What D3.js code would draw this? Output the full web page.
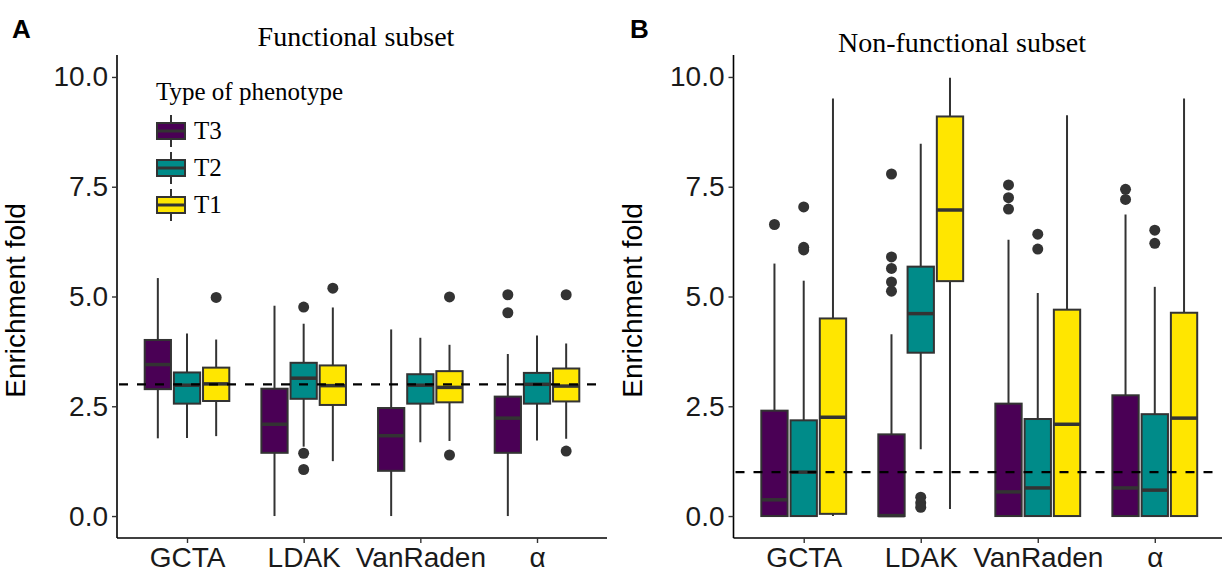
<!DOCTYPE html>
<html>
<head>
<meta charset="utf-8">
<script src="https://cdn.jsdelivr.net/npm/d3@7"></script>
<style>
  body { margin: 0; background: #fff; }
  svg { display: block; }
</style>
</head>
<body>
<svg id="chart" width="1222" height="574"></svg>
<script>
// categories
const methods = ["GCTA", "LDAK", "VanRaden", "α"];
const types = ["T3", "T2", "T1"];
const colors = ["#4a0055", "#008b89", "#ffe600"];
const yTicks = [0, 2.5, 5, 7.5, 10];

// five number summaries [lower whisker, q1, median, q3, upper whisker], one per method
const funcT3 = [[1.77, 2.89, 3.45, 4.01, 5.42], [0, 1.44, 2.09, 2.90, 4.79], [0, 1.03, 1.83, 2.46, 4.25], [0, 1.44, 2.23, 2.72, 3.69]];
const funcT2 = [[1.78, 2.56, 2.98, 3.27, 4.16], [1.58, 2.67, 3.14, 3.49, 4.38], [1.68, 2.56, 2.98, 3.23, 4.06], [1.72, 2.56, 3.00, 3.26, 4.11]];
const funcT1 = [[1.82, 2.62, 3.01, 3.38, 4.02], [1.25, 2.53, 2.97, 3.43, 4.75], [1.71, 2.59, 2.93, 3.30, 3.90], [1.76, 2.61, 2.96, 3.36, 3.93]];
// outliers [method index, type index, value]
const funcOutliers = [[0, 2, 4.98], [1, 1, 4.76], [1, 1, 1.43], [1, 1, 1.06], [1, 2, 5.19],
  [2, 2, 4.99], [2, 2, 1.39], [3, 0, 5.04], [3, 0, 4.63], [3, 2, 5.04], [3, 2, 1.48]];

const nonT3 = [[0, 0, 0.37, 2.40, 5.75], [0, 0, 0.01, 1.86, 4.14], [0, 0, 0.55, 2.56, 6.29], [0, 0, 0.64, 2.75, 6.87]];
const nonT2 = [[0, 0, 1.00, 2.18, 5.36], [1.52, 3.72, 4.61, 5.68, 8.48], [0, 0, 0.64, 2.21, 5.08], [0, 0, 0.59, 2.32, 5.22]];
const nonT1 = [[0, 0.05, 2.25, 4.50, 9.51], [0.16, 5.35, 6.97, 9.10, 9.98], [0, 0, 2.09, 4.70, 9.13], [0, 0, 2.23, 4.63, 9.51]];
const nonOutliers = [[0, 0, 6.64], [0, 1, 7.04], [0, 1, 6.12], [0, 1, 6.06],
  [1, 0, 7.79], [1, 0, 5.90], [1, 0, 5.64], [1, 0, 5.33], [1, 0, 5.12],
  [1, 1, 0.43], [1, 1, 0.30], [1, 1, 0.20],
  [2, 0, 7.54], [2, 0, 7.25], [2, 0, 6.99], [2, 1, 6.42], [2, 1, 6.08],
  [3, 0, 7.44], [3, 0, 7.21], [3, 1, 6.51], [3, 1, 6.21]];

const svg = d3.select("#chart");
const plotTop = 55, plotBottom = 538;
const y = d3.scaleLinear().domain([-0.5, 10.5]).range([plotBottom, plotTop]);

function panel(opts) {
  const {left, right, title, titleX, titleY, letter, letterX, stats, outliers, refLine, legend} = opts;
  const g = svg.append("g");

  const x = d3.scalePoint().domain(methods).range([left, right]).padding(0.6);
  const step = x.step();
  const inner = d3.scaleBand().domain(types)
      .range([-0.375 * step, 0.375 * step]).paddingInner(0.1).paddingOuter(0.05);
  const bw = inner.bandwidth();
  const cx = (m, t) => x(methods[m]) + inner(types[t]) + bw / 2;

  // boxes
  const rows = [];
  stats.forEach((arr, t) => arr.forEach((s, m) => rows.push({m, t, s})));

  const box = g.selectAll("g.box").data(rows).enter().append("g").attr("class", "box");
  box.append("line")
      .attr("x1", d => cx(d.m, d.t)).attr("x2", d => cx(d.m, d.t))
      .attr("y1", d => y(d.s[0])).attr("y2", d => y(d.s[4]))
      .attr("stroke", "#333").attr("stroke-width", 2);
  box.append("rect")
      .attr("x", d => cx(d.m, d.t) - bw / 2).attr("width", bw)
      .attr("y", d => y(d.s[3])).attr("height", d => Math.max(0, y(d.s[1]) - y(d.s[3])))
      .attr("fill", d => colors[d.t]).attr("stroke", "#333").attr("stroke-width", 2);
  box.append("line")
      .attr("x1", d => cx(d.m, d.t) - bw / 2).attr("x2", d => cx(d.m, d.t) + bw / 2)
      .attr("y1", d => y(d.s[2])).attr("y2", d => y(d.s[2]))
      .attr("stroke", "#333").attr("stroke-width", 3.5);

  g.selectAll("circle.out").data(outliers).enter().append("circle")
      .attr("class", "out")
      .attr("cx", d => cx(d[0], d[1])).attr("cy", d => y(d[2]))
      .attr("r", 5.5).attr("fill", "#333");

  // reference line
  g.append("line")
      .attr("x1", left + 2).attr("x2", right - 4)
      .attr("y1", y(refLine)).attr("y2", y(refLine))
      .attr("stroke", "#000").attr("stroke-width", 2.2).attr("stroke-dasharray", "9,9");

  // axes
  const yAxis = g.append("g").attr("transform", `translate(${left},0)`)
      .call(d3.axisLeft(y).tickValues(yTicks).tickFormat(d3.format(".1f")).tickSize(5).tickPadding(4));
  yAxis.select(".domain").attr("d", `M0,${plotTop}V${plotBottom}`).attr("stroke-width", 1.6);
  yAxis.selectAll(".tick line").attr("stroke", "#333").attr("stroke-width", 1.4);
  yAxis.selectAll(".tick text").attr("font-family", "'Liberation Sans', Arial, sans-serif")
      .attr("font-size", 28).attr("fill", "#1a1a1a");

  const xAxis = g.append("g").attr("transform", `translate(0,${plotBottom})`)
      .call(d3.axisBottom(x).tickSize(5).tickPadding(4));
  xAxis.select(".domain").attr("d", `M${left},0H${right}`).attr("stroke-width", 1.6);
  xAxis.selectAll(".tick line").attr("stroke", "#333").attr("stroke-width", 1.4);
  xAxis.selectAll(".tick text").attr("font-family", "'Liberation Sans', Arial, sans-serif")
      .attr("font-size", 28).attr("fill", "#1a1a1a");

  // axis title
  g.append("text")
      .attr("transform", `translate(${left - 92},${(plotTop + plotBottom) / 2 + 4}) rotate(-90)`)
      .attr("text-anchor", "middle")
      .attr("font-family", "'Liberation Sans', Arial, sans-serif").attr("font-size", 28)
      .text("Enrichment fold");

  // panel title and letter
  g.append("text").attr("x", titleX).attr("y", titleY).attr("text-anchor", "middle")
      .attr("font-family", "'Liberation Serif', 'Times New Roman', serif").attr("font-size", 28)
      .text(title);
  g.append("text").attr("x", letterX).attr("y", 38)
      .attr("font-family", "'Liberation Sans', Arial, sans-serif").attr("font-size", 26)
      .attr("font-weight", "bold").text(letter);

  if (legend) {
    const lg = g.append("g");
    lg.append("text").attr("x", 156).attr("y", 100)
        .attr("font-family", "'Liberation Serif', 'Times New Roman', serif").attr("font-size", 25)
        .text("Type of phenotype");
    const key = lg.selectAll("g.key").data(types).enter().append("g").attr("class", "key")
        .attr("transform", (d, i) => `translate(171,${131 + i * 37})`);
    key.append("line").attr("y1", -16).attr("y2", 16).attr("stroke", "#333").attr("stroke-width", 2);
    key.append("rect").attr("x", -14).attr("y", -8).attr("width", 28).attr("height", 16)
        .attr("fill", (d, i) => colors[i]).attr("stroke", "#333").attr("stroke-width", 2);
    key.append("line").attr("x1", -14).attr("x2", 14).attr("stroke", "#333").attr("stroke-width", 3);
    key.append("text").attr("x", 23).attr("y", 8)
        .attr("font-family", "'Liberation Serif', 'Times New Roman', serif").attr("font-size", 25)
        .text(d => d);
  }
}

panel({left: 117, right: 607, title: "Functional subset", titleX: 356, titleY: 46,
  letter: "A", letterX: 12, stats: [funcT3, funcT2, funcT1], outliers: funcOutliers,
  refLine: 3, legend: true});
panel({left: 733.5, right: 1225, title: "Non-functional subset", titleX: 962, titleY: 52,
  letter: "B", letterX: 630, stats: [nonT3, nonT2, nonT1], outliers: nonOutliers,
  refLine: 1, legend: false});
</script>
</body>
</html>
